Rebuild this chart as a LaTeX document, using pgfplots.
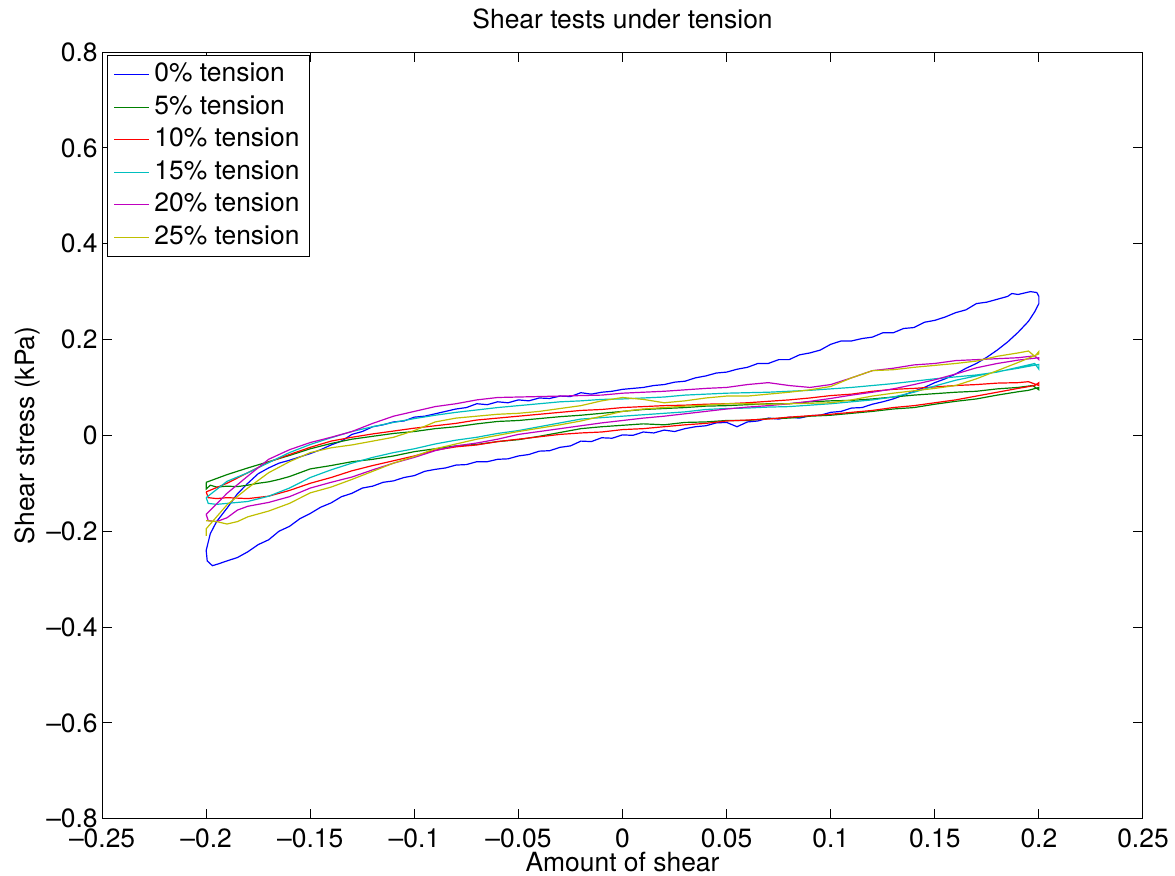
\documentclass[border=0pt]{standalone}
\usepackage{fontspec}
\setmainfont{TeX Gyre Heros}
\usepackage{pgfplots}
\pgfplotsset{compat=1.18}
\definecolor{mblue}{rgb}{0,0,1}
\definecolor{mgreen}{rgb}{0,0.5,0}
\definecolor{mred}{rgb}{1,0,0}
\definecolor{mcyan}{rgb}{0,0.75,0.75}
\definecolor{mmag}{rgb}{0.75,0,0.75}
\definecolor{myel}{rgb}{0.75,0.75,0}
\newcommand{\ff}{\fontsize{13.2bp}{15.8bp}\selectfont}
\begin{document}
\begin{tikzpicture}
\begin{axis}[
  scale only axis, width=520bp, height=383bp,
  xmin=-0.25, xmax=0.25, ymin=-0.8, ymax=0.8,
  axis line style={line width=0.5bp},
  every tick/.style={black, line width=0.5bp},
  tick align=inside, major tick length=5bp,
  xtick={-0.25,-0.2,-0.15,-0.1,-0.05,0,0.05,0.1,0.15,0.2,0.25},
  xticklabels={\textendash0.25,\textendash0.2,\textendash0.15,\textendash0.1,\textendash0.05,0,0.05,0.1,0.15,0.2,0.25},
  ytick={-0.8,-0.6,-0.4,-0.2,0,0.2,0.4,0.6,0.8},
  yticklabels={\textendash0.8,\textendash0.6,\textendash0.4,\textendash0.2,0,0.2,0.4,0.6,0.8},
  xticklabel style={font=\ff, anchor=base, inner sep=0pt, yshift=-14.5bp},
  yticklabel style={font=\ff, anchor=east, inner sep=0pt, xshift=-2bp},
  title={Shear tests under tension},
  title style={font=\ff, at={(axis description cs:0.5,1)}, anchor=base, yshift=6bp, inner sep=0pt},
  xlabel={Amount of shear},
  xlabel style={font=\ff, at={(axis description cs:0.5,0)}, anchor=base, yshift=-26.5bp, inner sep=0pt},
  ylabel={Shear stress (kPa)},
  ylabel style={font=\ff, at={(axis description cs:-0.0654,0.5)}, anchor=base, rotate=0, inner sep=0pt},
  legend cell align=left,
  legend style={font=\ff, at={(axis description cs:0.005,0.996)}, anchor=north west,
    draw=black, line width=0.5bp, inner xsep=3bp, inner ysep=3.5bp,
    nodes={inner xsep=2.2bp, inner ysep=0bp, text height=9.5bp, text depth=2.5bp},
    row sep=4.25bp},
  legend image code/.code={\draw[#1, line width=0.6bp] (0bp,0bp) -- (17.5bp,0bp);},
  every axis plot/.append style={line width=0.6bp},
]
% 0% tension
\addplot[mblue] table {
x y
-0.200 -0.240
-0.1995 -0.262
-0.197 -0.272
-0.194 -0.268
-0.190 -0.262
-0.185 -0.255
-0.180 -0.243
-0.175 -0.228
-0.170 -0.218
-0.165 -0.200
-0.160 -0.190
-0.155 -0.174
-0.150 -0.163
-0.145 -0.150
-0.140 -0.141
-0.135 -0.128
-0.130 -0.121
-0.125 -0.110
-0.120 -0.106
-0.115 -0.098
-0.110 -0.095
-0.105 -0.088
-0.100 -0.084
-0.095 -0.075
-0.090 -0.071
-0.085 -0.068
-0.080 -0.062
-0.075 -0.061
-0.070 -0.055
-0.065 -0.055
-0.060 -0.050
-0.055 -0.049
-0.050 -0.043
-0.045 -0.040
-0.040 -0.033
-0.035 -0.032
-0.030 -0.025
-0.025 -0.022
-0.020 -0.012
-0.015 -0.013
-0.010 -0.005
-0.005 -0.006
0.000 0.001
0.005 0.000
0.010 0.007
0.015 0.005
0.020 0.011
0.025 0.008
0.030 0.014
0.035 0.018
0.040 0.020
0.045 0.026
0.050 0.027
0.055 0.018
0.060 0.028
0.065 0.030
0.070 0.036
0.075 0.034
0.080 0.038
0.085 0.036
0.090 0.041
0.095 0.042
0.100 0.048
0.105 0.050
0.110 0.057
0.115 0.058
0.120 0.065
0.125 0.070
0.130 0.076
0.135 0.084
0.140 0.092
0.145 0.100
0.150 0.110
0.155 0.118
0.160 0.128
0.165 0.140
0.170 0.150
0.175 0.163
0.180 0.178
0.185 0.195
0.190 0.215
0.195 0.238
0.198 0.258
0.200 0.275
0.200 0.290
0.199 0.298
0.196 0.300
0.193 0.297
0.190 0.294
0.187 0.296
0.185 0.290
0.180 0.284
0.175 0.278
0.170 0.275
0.165 0.262
0.160 0.256
0.155 0.247
0.150 0.240
0.145 0.236
0.140 0.225
0.135 0.223
0.130 0.214
0.125 0.214
0.120 0.205
0.115 0.202
0.110 0.197
0.105 0.197
0.100 0.190
0.095 0.178
0.090 0.172
0.085 0.168
0.080 0.158
0.075 0.158
0.070 0.150
0.065 0.150
0.060 0.142
0.055 0.138
0.050 0.132
0.045 0.130
0.040 0.124
0.035 0.120
0.030 0.113
0.025 0.111
0.020 0.106
0.015 0.104
0.010 0.100
0.005 0.098
0.000 0.096
-0.005 0.092
-0.010 0.090
-0.015 0.086
-0.020 0.089
-0.025 0.081
-0.030 0.082
-0.035 0.077
-0.040 0.078
-0.045 0.072
-0.050 0.074
-0.055 0.068
-0.060 0.070
-0.065 0.064
-0.070 0.066
-0.075 0.058
-0.080 0.055
-0.085 0.050
-0.090 0.045
-0.095 0.040
-0.100 0.038
-0.105 0.030
-0.110 0.028
-0.115 0.022
-0.120 0.018
-0.125 0.008
-0.130 0.002
-0.135 -0.012
-0.140 -0.020
-0.145 -0.030
-0.150 -0.038
-0.155 -0.045
-0.160 -0.052
-0.165 -0.058
-0.170 -0.068
-0.175 -0.080
-0.180 -0.100
-0.185 -0.122
-0.190 -0.152
-0.195 -0.180
-0.198 -0.205
-0.200 -0.240
};
\addlegendentry{0\% tension}
% 5% tension
\addplot[mgreen] table {
x y
-0.200 -0.098
-0.200 -0.112
-0.198 -0.104
-0.195 -0.108
-0.190 -0.106
-0.185 -0.107
-0.180 -0.104
-0.175 -0.100
-0.170 -0.097
-0.165 -0.092
-0.160 -0.086
-0.155 -0.078
-0.150 -0.070
-0.140 -0.063
-0.130 -0.055
-0.120 -0.050
-0.110 -0.043
-0.100 -0.034
-0.090 -0.028
-0.080 -0.022
-0.070 -0.019
-0.060 -0.013
-0.050 -0.009
-0.040 -0.002
-0.030 0.006
-0.020 0.014
-0.010 0.018
0.000 0.021
0.010 0.024
0.020 0.022
0.030 0.027
0.040 0.028
0.050 0.031
0.060 0.031
0.070 0.035
0.080 0.036
0.090 0.040
0.100 0.042
0.110 0.046
0.120 0.050
0.130 0.055
0.140 0.058
0.150 0.065
0.160 0.071
0.170 0.076
0.180 0.084
0.190 0.091
0.195 0.094
0.200 0.100
0.200 0.095
0.197 0.104
0.190 0.100
0.180 0.097
0.170 0.092
0.160 0.090
0.150 0.087
0.140 0.084
0.130 0.080
0.120 0.076
0.110 0.073
0.100 0.072
0.090 0.070
0.080 0.066
0.070 0.066
0.060 0.064
0.050 0.062
0.040 0.061
0.030 0.058
0.020 0.056
0.010 0.054
0.000 0.050
-0.010 0.046
-0.020 0.042
-0.030 0.039
-0.040 0.035
-0.050 0.031
-0.060 0.029
-0.070 0.024
-0.080 0.018
-0.090 0.014
-0.100 0.008
-0.110 0.004
-0.120 -0.002
-0.130 -0.008
-0.140 -0.017
-0.150 -0.028
-0.160 -0.042
-0.170 -0.055
-0.180 -0.068
-0.190 -0.082
-0.200 -0.098
};
\addlegendentry{5\% tension}
% 10% tension
\addplot[mred] table {
x y
-0.200 -0.118
-0.199 -0.130
-0.195 -0.132
-0.190 -0.130
-0.180 -0.132
-0.170 -0.127
-0.160 -0.115
-0.150 -0.100
-0.140 -0.088
-0.130 -0.074
-0.120 -0.063
-0.110 -0.053
-0.100 -0.043
-0.090 -0.031
-0.080 -0.024
-0.070 -0.020
-0.060 -0.013
-0.050 -0.008
-0.040 -0.003
-0.030 0.002
-0.020 0.005
-0.010 0.007
0.000 0.012
0.010 0.014
0.020 0.018
0.030 0.022
0.040 0.025
0.050 0.030
0.060 0.032
0.070 0.034
0.080 0.038
0.090 0.041
0.100 0.044
0.110 0.048
0.120 0.052
0.130 0.058
0.140 0.062
0.150 0.068
0.160 0.074
0.170 0.082
0.180 0.090
0.190 0.098
0.198 0.104
0.200 0.110
0.200 0.104
0.195 0.112
0.190 0.110
0.180 0.109
0.170 0.106
0.160 0.104
0.150 0.101
0.140 0.098
0.130 0.096
0.120 0.092
0.110 0.086
0.100 0.083
0.090 0.078
0.080 0.074
0.070 0.071
0.060 0.068
0.050 0.066
0.040 0.065
0.030 0.063
0.020 0.062
0.010 0.060
0.000 0.058
-0.010 0.054
-0.020 0.052
-0.030 0.048
-0.040 0.044
-0.050 0.040
-0.060 0.036
-0.070 0.032
-0.080 0.025
-0.090 0.020
-0.100 0.015
-0.110 0.009
-0.120 0.003
-0.130 -0.004
-0.140 -0.012
-0.150 -0.025
-0.160 -0.040
-0.170 -0.056
-0.180 -0.078
-0.190 -0.100
-0.200 -0.118
};
\addlegendentry{10\% tension}
% 15% tension
\addplot[mcyan] table {
x y
-0.200 -0.130
-0.199 -0.142
-0.195 -0.144
-0.190 -0.142
-0.180 -0.138
-0.170 -0.127
-0.160 -0.110
-0.150 -0.088
-0.140 -0.072
-0.130 -0.058
-0.120 -0.046
-0.110 -0.036
-0.100 -0.028
-0.090 -0.018
-0.080 -0.010
-0.070 -0.004
-0.060 0.004
-0.050 0.010
-0.040 0.018
-0.030 0.026
-0.020 0.034
-0.010 0.037
0.000 0.040
0.010 0.043
0.020 0.046
0.030 0.049
0.040 0.054
0.050 0.056
0.060 0.057
0.070 0.059
0.080 0.060
0.090 0.063
0.100 0.066
0.110 0.070
0.120 0.074
0.130 0.080
0.140 0.090
0.150 0.103
0.160 0.115
0.170 0.124
0.180 0.133
0.190 0.140
0.200 0.148
0.200 0.138
0.198 0.150
0.190 0.142
0.180 0.132
0.170 0.126
0.160 0.122
0.150 0.118
0.140 0.113
0.130 0.108
0.120 0.104
0.110 0.100
0.100 0.097
0.090 0.094
0.080 0.092
0.070 0.090
0.060 0.089
0.050 0.088
0.040 0.086
0.030 0.084
0.020 0.080
0.010 0.078
0.000 0.076
-0.010 0.075
-0.020 0.072
-0.030 0.070
-0.040 0.066
-0.050 0.062
-0.060 0.058
-0.070 0.053
-0.080 0.048
-0.090 0.042
-0.100 0.035
-0.110 0.027
-0.120 0.018
-0.130 0.008
-0.140 -0.005
-0.150 -0.019
-0.160 -0.036
-0.170 -0.057
-0.180 -0.078
-0.190 -0.096
-0.200 -0.130
};
\addlegendentry{15\% tension}
% 20% tension
\addplot[mmag] table {
x y
-0.200 -0.165
-0.199 -0.178
-0.195 -0.180
-0.190 -0.172
-0.185 -0.156
-0.180 -0.148
-0.170 -0.140
-0.160 -0.128
-0.150 -0.110
-0.140 -0.098
-0.130 -0.087
-0.120 -0.072
-0.110 -0.058
-0.100 -0.046
-0.090 -0.032
-0.080 -0.022
-0.070 -0.016
-0.060 -0.008
-0.050 0.002
-0.040 0.008
-0.030 0.014
-0.020 0.020
-0.010 0.026
0.000 0.031
0.010 0.036
0.020 0.040
0.030 0.045
0.040 0.050
0.050 0.055
0.060 0.059
0.070 0.062
0.080 0.066
0.090 0.071
0.100 0.077
0.110 0.084
0.120 0.090
0.130 0.097
0.140 0.106
0.150 0.116
0.160 0.128
0.170 0.141
0.180 0.150
0.190 0.157
0.200 0.162
0.200 0.158
0.198 0.166
0.190 0.162
0.180 0.160
0.170 0.158
0.160 0.156
0.150 0.150
0.140 0.147
0.130 0.140
0.120 0.135
0.110 0.120
0.100 0.106
0.090 0.100
0.080 0.104
0.070 0.110
0.060 0.106
0.050 0.100
0.040 0.098
0.030 0.095
0.020 0.092
0.010 0.090
0.000 0.088
-0.010 0.084
-0.020 0.083
-0.030 0.082
-0.040 0.081
-0.050 0.080
-0.060 0.079
-0.070 0.074
-0.080 0.066
-0.090 0.060
-0.100 0.050
-0.110 0.040
-0.120 0.025
-0.130 0.008
-0.140 -0.004
-0.150 -0.015
-0.160 -0.030
-0.170 -0.050
-0.180 -0.085
-0.190 -0.121
-0.200 -0.165
};
\addlegendentry{20\% tension}
% 25% tension
\addplot[myel] table {
x y
-0.200 -0.178
-0.195 -0.180
-0.190 -0.185
-0.185 -0.180
-0.180 -0.170
-0.170 -0.158
-0.160 -0.142
-0.150 -0.120
-0.140 -0.108
-0.130 -0.092
-0.120 -0.075
-0.110 -0.058
-0.100 -0.044
-0.090 -0.028
-0.080 -0.018
-0.070 -0.008
-0.060 0.000
-0.050 0.008
-0.040 0.015
-0.030 0.022
-0.020 0.030
-0.010 0.040
0.000 0.050
0.010 0.055
0.020 0.058
0.030 0.061
0.040 0.063
0.050 0.066
0.060 0.066
0.070 0.065
0.080 0.066
0.090 0.067
0.100 0.068
0.110 0.074
0.120 0.082
0.130 0.088
0.140 0.093
0.150 0.098
0.160 0.104
0.170 0.118
0.180 0.135
0.190 0.152
0.200 0.170
0.200 0.175
0.198 0.165
0.195 0.176
0.190 0.172
0.180 0.165
0.170 0.155
0.160 0.150
0.150 0.146
0.140 0.142
0.130 0.137
0.120 0.135
0.110 0.120
0.100 0.102
0.090 0.095
0.080 0.090
0.070 0.086
0.060 0.082
0.050 0.082
0.040 0.078
0.030 0.072
0.020 0.068
0.010 0.075
0.000 0.079
-0.010 0.072
-0.020 0.062
-0.030 0.056
-0.040 0.050
-0.050 0.046
-0.060 0.044
-0.070 0.040
-0.080 0.036
-0.090 0.028
-0.100 0.010
-0.110 -0.004
-0.120 -0.012
-0.130 -0.020
-0.140 -0.026
-0.150 -0.036
-0.160 -0.055
-0.170 -0.078
-0.180 -0.110
-0.190 -0.145
-0.200 -0.195
-0.200 -0.210
};
\addlegendentry{25\% tension}
\end{axis}
\pgfresetboundingbox
\path[use as bounding box] (-51bp,-28.5bp) rectangle (536bp,409bp);
\end{tikzpicture}
\end{document}
